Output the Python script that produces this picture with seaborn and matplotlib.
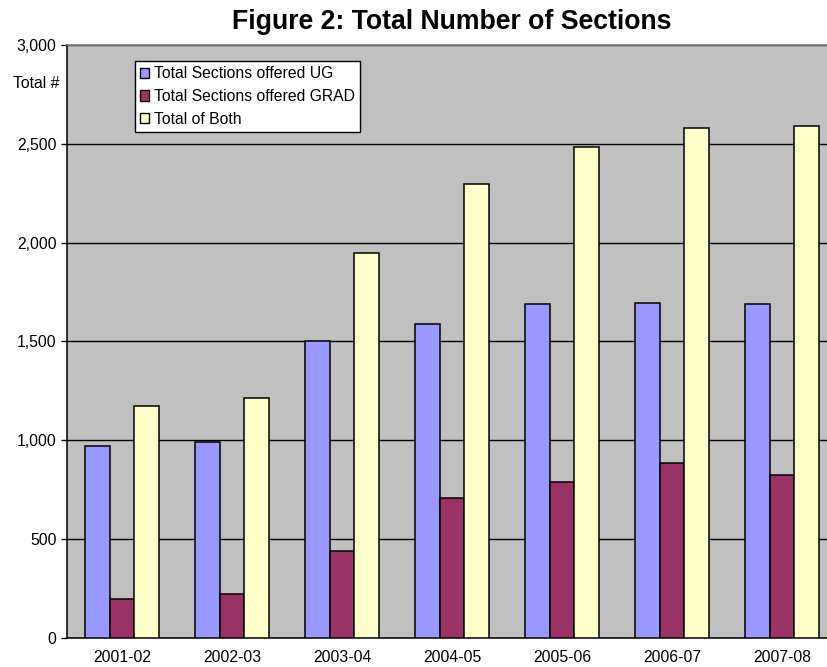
import matplotlib
matplotlib.use("Agg")
import matplotlib.pyplot as plt
import matplotlib.ticker as mticker
import pandas as pd
import seaborn as sns

years = ["2001-02", "2002-03", "2003-04", "2004-05", "2005-06", "2006-07", "2007-08"]
ug_sections = [972, 991, 1504, 1587, 1691, 1695, 1688]
grad_sections = [198, 220, 439, 707, 787, 886, 824]
total_sections = [1172, 1212, 1945, 2296, 2483, 2582, 2589]
series_names = ["Total Sections offered UG", "Total Sections offered GRAD", "Total of Both"]
series_colors = ["#9999FF", "#993366", "#FFFFCC"]

df = pd.DataFrame({
    "year": years * 3,
    "value": ug_sections + grad_sections + total_sections,
    "series": [series_names[0]] * len(years)
    + [series_names[1]] * len(years)
    + [series_names[2]] * len(years),
})

sns.set_theme(style="white")
plt.rcParams["font.family"] = ["Liberation Sans", "DejaVu Sans"]
plt.rcParams["text.color"] = "black"

fig = plt.figure(figsize=(8.28, 6.67), dpi=100)
ax = fig.add_axes([67 / 828, 29.3 / 667, 770 / 828, 592.7 / 667])
ax.set_facecolor("#C0C0C0")

sns.barplot(
    data=df, x="year", y="value", hue="series",
    hue_order=series_names, palette=series_colors,
    width=0.664, gap=0, edgecolor="black", linewidth=1.1,
    saturation=1, ax=ax, zorder=3,
)

ax.set_ylim(0, 3000)
ax.set_xlim(-0.5, len(years) - 0.5)
ax.yaxis.set_major_locator(mticker.MultipleLocator(500))
ax.yaxis.set_major_formatter(mticker.FuncFormatter(lambda v, p: f"{int(v):,}"))
ax.grid(axis="y", color="black", linewidth=1.0, zorder=0)
ax.set_axisbelow(True)

# category labels at centres, tick marks between categories
ax.set_xticks(range(len(years)))
ax.set_xticklabels(years, fontsize=11.3, color="black")
ax.tick_params(axis="x", which="major", length=0, pad=9)
ax.set_xticks([i - 0.5 for i in range(len(years) + 1)], minor=True)
ax.tick_params(axis="x", which="minor", direction="out", length=4.5, width=1, color="black")
ax.tick_params(axis="y", direction="out", length=4.5, width=1, color="black",
               labelsize=11.3, labelcolor="black", left=True, pad=3)

ax.set_xlabel("")
ax.set_ylabel("")

for side in ["left", "bottom"]:
    ax.spines[side].set_color("black")
    ax.spines[side].set_linewidth(1.1)
ax.spines["top"].set_color("#808080")
ax.spines["top"].set_linewidth(1.2)
ax.spines["right"].set_visible(False)

ax.legend_.remove()
handles = [plt.Rectangle((0, 0), 1, 1, facecolor=c, edgecolor="black", linewidth=1)
           for c in series_colors]
leg = ax.legend(
    handles, series_names, loc="upper left",
    bbox_to_anchor=(68 / 770, 1 - 16.5 / 592.7),
    fontsize=11.3, frameon=True, fancybox=False, framealpha=1,
    edgecolor="black", borderpad=0.3, labelspacing=0.5,
    handlelength=0.62, handleheight=0.62, handletextpad=0.3, borderaxespad=0,
)
leg.get_frame().set_linewidth(1.0)
for t in leg.get_texts():
    t.set_color("black")

fig.text(452 / 828, 1 - 22 / 667, "Figure 2: Total Number of Sections",
         ha="center", va="center", fontsize=19.2, fontweight="bold", color="black")
fig.text(36 / 828, 1 - 84 / 667, "Total #", ha="center", va="center",
         fontsize=11.3, color="black")

fig.savefig("out.png", dpi=100, facecolor="white")
